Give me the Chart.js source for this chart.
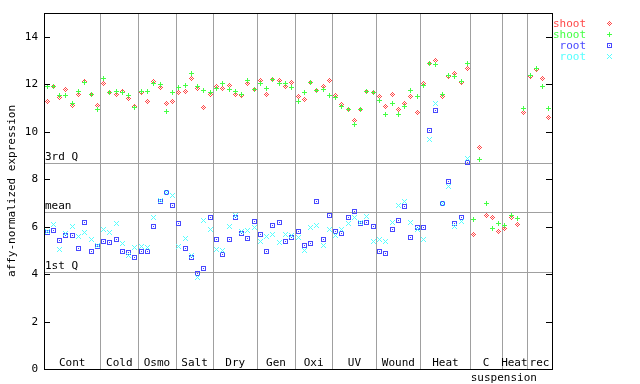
<!DOCTYPE html>
<html>
<head>
<meta charset="utf-8">
<script src="https://cdn.jsdelivr.net/npm/chart.js@4/dist/chart.umd.min.js"></script>
<style>
body { margin: 0; background: #fff; }
canvas { display: block; }
</style>
</head>
<body>
<canvas id="myChart" width="640" height="384"></canvas>
<script>
// conditions along the x axis, and how many samples each one holds
const groupLabels = ['Cont', 'Cold', 'Osmo', 'Salt', 'Dry', 'Gen', 'Oxi', 'UV', 'Wound', 'Heat', 'C', 'Heat', 'rec'];
const groupSizes = [9, 6, 6, 6, 7, 6, 6, 7, 7, 8, 5, 4, 4];
const yTicks = [0, 2, 4, 6, 8, 10, 12, 14];
const refValues = [8.67, 6.61, 4.07];
const refLabels = ['3rd Q', 'mean', '1st Q'];
const seriesNames = ['shoot', 'shoot', 'root', 'root'];
const seriesColors = ['#ff4848', '#44ff44', '#4848ff', '#55ffff'];

const shootA = [
    11.29, 11.91, 11.45, 11.76, 11.11, 11.58, 12.12, 11.58, 11.11,
    12.05, 11.63, 11.58, 11.71, 11.41, 11.07,
    11.63, 11.29, 12.12, 11.87, 11.20, 11.29,
    11.67, 11.71, 12.25, 11.83, 11.03, 11.58,
    11.91, 11.83, 11.95, 11.58, 11.53, 12.05, 11.79,
    12.14, 11.58, 12.18, 12.14, 11.91, 12.09,
    11.49, 11.37, 12.09, 11.74, 11.91, 12.16,
    11.53, 11.15, 10.94, 10.49, 10.94, 11.70, 11.67,
    11.50, 11.07, 11.58, 10.94, 11.20, 11.49, 10.82,
    12.01, 12.88, 12.98, 11.49, 12.33, 12.47, 12.08, 12.66,
    5.68, 9.34, 6.48, 6.39, 5.80,
    5.93, 6.39, 6.10, 10.80,
    12.32, 12.60, 12.25, 10.60
];
const shootB = [
    11.91, 11.91, 11.53, 11.53, 11.20, 11.71, 12.09, 11.58, 10.94,
    12.25, 11.67, 11.71, 11.63, 11.53, 11.00,
    11.71, 11.71, 12.05, 11.98, 10.86, 11.67,
    11.87, 11.95, 12.43, 11.91, 11.74, 11.63,
    11.83, 12.05, 11.79, 11.70, 11.58, 12.16, 11.79,
    12.05, 11.83, 12.20, 12.05, 12.01, 11.87,
    11.29, 11.67, 12.09, 11.74, 11.79, 11.53,
    11.45, 11.07, 10.94, 10.31, 10.94, 11.70, 11.67,
    11.32, 10.73, 11.20, 10.73, 11.07, 11.74, 11.49,
    11.93, 12.88, 12.85, 11.58, 12.36, 12.33, 12.11, 12.88,
    6.28, 8.84, 6.98, 5.94, 6.14,
    6.05, 6.48, 6.36, 10.98,
    12.37, 12.67, 11.91, 10.98
];
const rootA = [
    5.76, 5.84, 5.42, 5.63, 5.63, 5.09, 6.19, 4.93, 5.17,
    5.38, 5.35, 5.46, 4.97, 4.89, 4.71,
    4.97, 4.97, 6.01, 7.04, 7.45, 6.91,
    6.14, 5.09, 4.71, 4.03, 4.24, 6.39,
    5.46, 4.83, 5.46, 6.39, 5.73, 5.51, 6.22,
    5.68, 4.96, 6.05, 6.18, 5.38, 5.55,
    5.80, 5.21, 5.30, 7.07, 5.46, 6.48,
    5.80, 5.72, 6.39, 6.65, 6.14, 6.18, 6.01,
    4.96, 4.88, 5.89, 6.27, 6.86, 5.55, 5.97,
    5.97, 10.06, 10.90, 6.98, 7.91, 6.14, 6.39, 8.71,
    null, null, null, null, null,
    null, null, null, null,
    null, null, null, null
];
const rootB = [
    5.80, 6.07, 5.04, 5.72, 6.01, 5.59, 5.76, 5.46, 5.21,
    5.89, 5.76, 6.14, 5.30, 4.79, 5.13,
    5.17, 5.13, 6.39, 7.12, 7.45, 7.29,
    5.17, 5.51, 4.79, 3.86, 6.27, 5.89,
    5.04, 5.00, 6.01, 6.48, 5.80, 5.84, 5.97,
    5.38, 5.59, 5.68, 5.34, 5.68, 5.63,
    5.55, 5.00, 5.97, 6.05, 5.21, 5.89,
    5.63, 5.89, 6.14, 6.39, 6.18, 6.44, 5.38,
    5.46, 5.38, 6.18, 6.89, 7.07, 6.18, 5.89,
    5.46, 9.68, 11.20, 6.98, 7.70, 6.01, 6.22, 8.85,
    null, null, null, null, null,
    null, null, null, null,
    null, null, null, null
];

const FONT = '11px "DejaVu Sans Mono"';
const nSamples = groupSizes.reduce((a, b) => a + b, 0);

// small pixel markers, like the bitmap ones in the original
function makeMarker(color, cells) {
    const c = document.createElement('canvas');
    c.width = 7;
    c.height = 7;
    const g = c.getContext('2d');
    g.fillStyle = color;
    cells.forEach(([dx, dy]) => g.fillRect(3 + dx, 3 + dy, 1, 1));
    return c;
}
const cellsDiamond = [], cellsPlus = [], cellsSquare = [], cellsX = [];
for (let dx = -2; dx <= 2; dx++) {
    for (let dy = -2; dy <= 2; dy++) {
        if (Math.abs(dx) + Math.abs(dy) <= 2 && (dx + dy) % 2 === 0) cellsDiamond.push([dx, dy]);
        if (dx === 0 || dy === 0) cellsPlus.push([dx, dy]);
        if (Math.abs(dx) === 2 || Math.abs(dy) === 2 || (dx === 0 && dy === 0)) cellsSquare.push([dx, dy]);
        if (Math.abs(dx) === Math.abs(dy)) cellsX.push([dx, dy]);
    }
}
const markers = [
    makeMarker(seriesColors[0], cellsDiamond),
    makeMarker(seriesColors[1], cellsPlus),
    makeMarker(seriesColors[2], cellsSquare),
    makeMarker(seriesColors[3], cellsX)
];

const toPoints = arr => arr.map((v, i) => ({ x: i + 0.5, y: v }));

function hline(ctx, x1, x2, y) {
    ctx.beginPath();
    ctx.moveTo(x1, y);
    ctx.lineTo(x2, y);
    ctx.stroke();
}
function vline(ctx, x, y1, y2) {
    ctx.beginPath();
    ctx.moveTo(x, y1);
    ctx.lineTo(x, y2);
    ctx.stroke();
}

const backdrop = {
    id: 'backdrop',
    beforeDatasetsDraw(chart) {
        const { ctx, chartArea: a, scales: { x, y } } = chart;
        ctx.save();
        ctx.strokeStyle = '#a0a0a0';
        ctx.lineWidth = 1;
        let n = 0;
        groupSizes.slice(0, -1).forEach(s => {
            n += s;
            vline(ctx, Math.round(x.getPixelForValue(n)) + 0.5, a.top, a.bottom);
        });
        ctx.font = FONT;
        ctx.fillStyle = '#000';
        ctx.textBaseline = 'bottom';
        ctx.textAlign = 'left';
        refValues.forEach((v, i) => {
            const py = Math.round(y.getPixelForValue(v)) + 0.5;
            hline(ctx, a.left, a.right, py);
            ctx.fillText(refLabels[i], a.left + 1, py - 0.5);
        });
        // condition names along the bottom
        ctx.textAlign = 'center';
        ctx.textBaseline = 'alphabetic';
        n = 0;
        groupSizes.forEach((s, i) => {
            ctx.fillText(groupLabels[i], x.getPixelForValue(n + s / 2), a.bottom - 3);
            n += s;
        });
        ctx.fillText('suspension', x.getPixelForValue(73) + 2, a.bottom + 12);
        ctx.restore();
        ctx.imageSmoothingEnabled = false;
    },
    afterDraw(chart) {
        const { ctx, chartArea: a, scales: { y } } = chart;
        ctx.save();
        ctx.strokeStyle = '#000';
        ctx.lineWidth = 1;
        ctx.strokeRect(a.left + 0.5, a.top + 0.5, a.right - a.left, a.bottom - a.top);
        ctx.font = FONT;
        ctx.fillStyle = '#000';
        ctx.textAlign = 'right';
        ctx.textBaseline = 'middle';
        yTicks.forEach(v => {
            const py = Math.round(y.getPixelForValue(v)) + 0.5;
            hline(ctx, a.left, a.left + 6, py);
            hline(ctx, a.right - 6, a.right, py);
            ctx.fillText(String(v), a.left - 6, py);
        });
        ctx.save();
        ctx.translate(12, (a.top + a.bottom) / 2);
        ctx.rotate(-Math.PI / 2);
        ctx.textAlign = 'center';
        ctx.fillText('affy-normalized expression', 0, 0);
        ctx.restore();
        // legend on the right
        ctx.imageSmoothingEnabled = false;
        seriesNames.forEach((name, i) => {
            const py = 24 + i * 11;
            ctx.fillStyle = seriesColors[i];
            ctx.fillText(name, 586, py);
            ctx.drawImage(markers[i], 606, py - 4);
        });
        ctx.restore();
    }
};

class ExpressionView {
    static chartItem = document.querySelector('#myChart');
    render() {
        const sets = [shootA, shootB, rootA, rootB];
        const datasets = sets.map((arr, i) => ({
            label: seriesNames[i],
            data: toPoints(arr),
            pointStyle: markers[i],
            pointRadius: 3,
            showLine: false,
            order: 4 - i
        }));
        const config = {
            type: 'scatter',
            data: { datasets: datasets },
            options: {
                responsive: false,
                animation: false,
                devicePixelRatio: 1,
                layout: { padding: { left: 44, top: 13, right: 88, bottom: 15 } },
                plugins: { legend: { display: false }, tooltip: { enabled: false } },
                scales: {
                    x: { type: 'linear', display: false, min: 0, max: nSamples },
                    y: { type: 'linear', display: false, min: 0, max: 15 }
                }
            },
            plugins: [backdrop]
        };
        this.chart = new Chart(ExpressionView.chartItem, config);
    }
}

new ExpressionView().render();
</script>
</body>
</html>
